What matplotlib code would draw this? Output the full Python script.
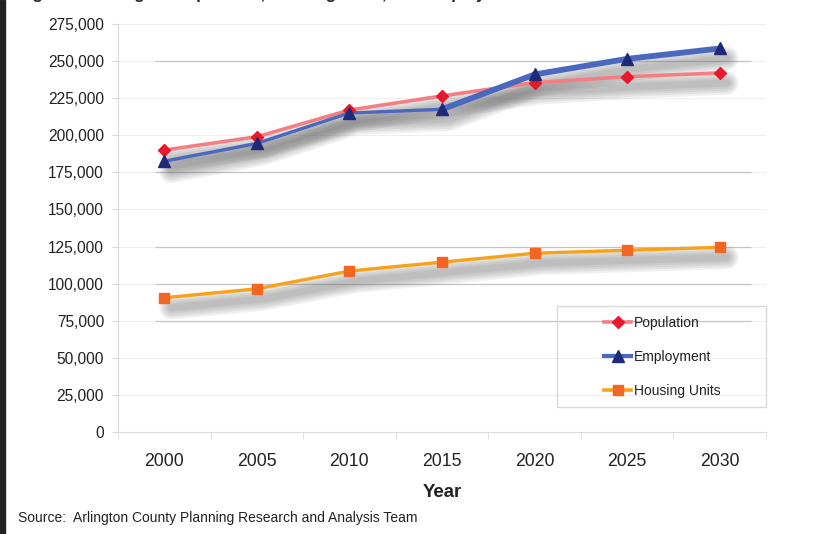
import matplotlib
matplotlib.use("Agg")
import matplotlib.pyplot as plt
import matplotlib.transforms as mtransforms
from matplotlib.patches import Rectangle
from matplotlib.ticker import FuncFormatter
import numpy as np

plt.rcParams['font.family'] = ['Liberation Sans', 'DejaVu Sans']

years = ["2000", "2005", "2010", "2015", "2020", "2025", "2030"]
population = [190000, 199000, 217000, 226500, 235500, 239500, 242000]
employment = [182500, 194500, 215000, 217500, 241000, 251500, 258500]
housing = [90500, 96500, 108500, 114500, 120500, 122500, 124500]

title_text = "Figure 2:  Arlington Population, Housing Units, and Employment Forecasts"
source_text = "Source:  Arlington County Planning Research and Analysis Team"

W, H = 822, 534
fig = plt.figure(figsize=(W / 100, H / 100), dpi=100)
ax = fig.add_axes([118 / W, 1 - 432 / H, (766 - 118) / W, (432 - 24) / H])

x = np.arange(len(years))
ax.set_xlim(-0.5, len(years) - 0.5)
ax.set_ylim(0, 275000)

# faint grid at every tick, plus a few darker lines as in the original
yt = np.arange(0, 275001, 25000)
for v in yt[1:]:
    ax.axhline(v, color="#efefef", lw=0.8, zorder=0)
for v in [250000, 175000, 125000, 100000, 75000]:
    ax.hlines(v, -0.1, 6.34, color="#c4c4c4", lw=0.9, zorder=0.5)

# blurred drop shadow under the lines
def shadow(yv):
    off = mtransforms.ScaledTranslation(7 / 100, -10 / 100, fig.dpi_scale_trans)
    tr = ax.transData + off
    for lw in [17, 14, 11, 8, 5]:
        ax.plot(x, yv, color="#555555", lw=lw, alpha=0.085, transform=tr,
                solid_capstyle="round", solid_joinstyle="round", zorder=1)

shadow(population)
shadow(employment)
shadow(housing)

ax.plot(x, housing, color="#f7a21b", lw=2.4, zorder=3)
ax.plot(x, housing, ls="none", marker="s", ms=7.5, color="#f26522",
        mec="#f26522", zorder=4)

ax.plot(x, population, color="#f47f82", lw=2.6, zorder=3)
ax.plot(x[:4], employment[:4], color="#4a68bd", lw=2.4, zorder=3.2)
ax.plot(x[3:], employment[3:], color="#4a68bd", lw=4.2, zorder=3.2)
ax.plot(x, population, ls="none", marker="D", ms=6.5, color="#e8192c", zorder=4)
ax.plot(x, employment, ls="none", marker="^", ms=8.5, color="#1e2a78", zorder=4.2)

# legend handles
hp, = ax.plot([], [], color="#f47f82", lw=2.6, marker="D", ms=6.5, mfc="#e8192c", mec="#e8192c")
he, = ax.plot([], [], color="#4a68bd", lw=3, marker="^", ms=8.5, mfc="#1e2a78", mec="#1e2a78")
hh, = ax.plot([], [], color="#f7a21b", lw=2.6, marker="s", ms=7.5, mfc="#f26522", mec="#f26522")
leg = ax.legend([hp, he, hh], ["Population", "Employment", "Housing Units"],
                loc="center left", bbox_to_anchor=(604 / W, 1 - 357 / H),
                bbox_transform=fig.transFigure, frameon=False, borderpad=0,
                fontsize=10, handlelength=1.95, handletextpad=0.2,
                labelspacing=1.42, borderaxespad=0)
for t in leg.get_texts():
    t.set_color("#222222")
fig.patches.append(Rectangle((557 / W, 1 - 407 / H), (766 - 557) / W, (407 - 306) / H,
                             transform=fig.transFigure, fill=False,
                             edgecolor="#d9d9d9", lw=1, zorder=5))

# axes styling
for s in ["top", "right"]:
    ax.spines[s].set_visible(False)
for s in ["left", "bottom"]:
    ax.spines[s].set_color("#d9d9d9")
ax.set_yticks(yt)
ax.yaxis.set_major_formatter(FuncFormatter(lambda v, p: f"{int(v):,}"))
ax.tick_params(axis="y", length=4, color="#d9d9d9", pad=6, labelsize=11.2,
               labelcolor="#222222")
ax.set_xticks(x)
ax.set_xticklabels(years)
ax.tick_params(axis="x", length=0, pad=15, labelsize=12.7, labelcolor="#222222")
ax.set_xticks(np.arange(-0.5, len(years)), minor=True)
ax.tick_params(axis="x", which="minor", length=5, color="#d9d9d9")
ax.set_xlabel("Year", fontsize=13.4, fontweight="bold", color="#222222", labelpad=10)

fig.text(18 / W, 1 - 518 / H, source_text, fontsize=10, color="#222222", va="center")
fig.text(18 / W, 1 + 1 / H, title_text, fontsize=12, fontweight="bold",
         color="#222222", va="baseline")
fig.patches.append(Rectangle((0, 0), 5 / W, 1, transform=fig.transFigure,
                             color="#222222", zorder=5))

fig.savefig("out.png", dpi=100)
